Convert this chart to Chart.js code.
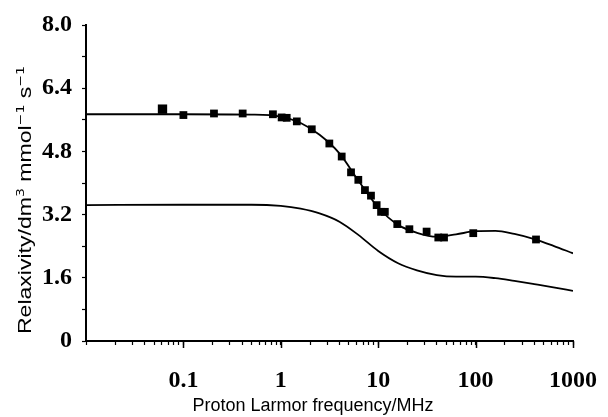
<!DOCTYPE html>
<html><head><meta charset="utf-8">
<script src="https://cdn.jsdelivr.net/npm/chart.js@4/dist/chart.umd.min.js"></script>
<style>html,body{margin:0;padding:0;background:#fff}#wrap{width:608px;height:417px}</style>
</head><body><div id="wrap"><canvas id="c" width="608" height="417"></canvas></div>
<script>
// Measured relaxivity points (squares)
const measuredFreq  = [0.061, 0.1, 0.206, 0.406, 0.83, 1.02, 1.15, 1.46, 2.08, 3.15, 4.22, 5.26, 6.25, 7.31, 8.43, 9.64, 10.7, 11.7, 15.7, 20.9, 31.4, 41.4, 47.4, 94.6, 417];
const measuredRelax = [5.87, 5.72, 5.76, 5.76, 5.74, 5.66, 5.65, 5.56, 5.36, 5.00, 4.67, 4.27, 4.08, 3.82, 3.68, 3.44, 3.27, 3.27, 2.96, 2.83, 2.77, 2.62, 2.62, 2.73, 2.57];
// Fitted curve through the points
const fitFreq  = [0.01, 0.1, 0.5, 1, 1.6, 2.5, 4, 6.3, 10, 16, 25, 40, 63, 100, 160, 250, 400, 630, 1000];
const fitRelax = [5.74, 5.74, 5.73, 5.68, 5.52, 5.22, 4.75, 4.05, 3.38, 2.94, 2.74, 2.64, 2.70, 2.78, 2.79, 2.71, 2.58, 2.41, 2.22];
// Lower calculated curve
const lowerFreq  = [0.01, 0.1, 0.5, 1, 1.6, 2.5, 4, 6.3, 10, 16, 25, 40, 63, 100, 160, 250, 400, 630, 1000];
const lowerRelax = [3.44, 3.45, 3.45, 3.42, 3.35, 3.23, 3.02, 2.68, 2.28, 1.97, 1.79, 1.67, 1.63, 1.63, 1.59, 1.52, 1.44, 1.36, 1.27];
// Axis ticks
const xMajorValues = [0.1, 1, 10, 100, 1000];
const xMajorLabels = ['0.1', '1', '10', '100', '1000'];
const yTickValues = [0, 0.8, 1.6, 2.4, 3.2, 4.0, 4.8, 5.6, 6.4, 7.2, 8.0];
const yTickLabels = ['0', '', '1.6', '', '3.2', '', '4.8', '', '6.4', '', '8.0'];
const xTitle = 'Proton Larmor frequency/MHz';
const yTitleParts = [['Relaxivity/dm', false], ['3', true], [' mmol', false], ['\u22121', true], [' s', false], ['\u22121', true]];

const xTickValues = [];
[0.01, 0.1, 1, 10, 100].forEach(d => { for (let k = 1; k <= 9; k++) xTickValues.push(d * k); });
xTickValues.push(1000);

function xLabel(v) {
  for (let i = 0; i < xMajorValues.length; i++) {
    if (Math.abs(v - xMajorValues[i]) / xMajorValues[i] < 1e-6) return xMajorLabels[i];
  }
  return '';
}

const titlesPlugin = {
  id: 'titles',
  afterDraw(chart) {
    const ctx = chart.ctx;
    const xs = chart.scales.x;
    ctx.save();
    ctx.strokeStyle = '#000';
    ctx.lineWidth = 1.5;
    xMajorValues.forEach(v => {
      const px = Math.round(xs.getPixelForValue(v)) + 0.5;
      ctx.beginPath();
      ctx.moveTo(px, xs.top);
      ctx.lineTo(px, xs.top + 7);
      ctx.stroke();
    });
    ctx.fillStyle = '#000';
    ctx.font = '18px "Liberation Sans", Arial, sans-serif';
    ctx.textAlign = 'center';
    ctx.textBaseline = 'middle';
    ctx.fillText(xTitle, 313, 406);
    // y title
    ctx.translate(25, 200);
    ctx.rotate(-Math.PI / 2);
    ctx.scale(1.28, 1);
    const mainFont = '18px "Liberation Sans", Arial, sans-serif';
    const supFont = '11px "DejaVu Sans", "Liberation Sans", sans-serif';
    let total = 0;
    const widths = yTitleParts.map(([t, sup]) => { ctx.font = sup ? supFont : mainFont; const w = ctx.measureText(t).width; total += w; return w; });
    let x = -total / 2;
    ctx.textAlign = 'left';
    ctx.textBaseline = 'alphabetic';
    yTitleParts.forEach(([t, sup], i) => {
      ctx.font = sup ? supFont : mainFont;
      ctx.fillText(t, x, sup ? -1 : 6);
      x += widths[i];
    });
    ctx.restore();
  }
};

new Chart(document.getElementById('c'), {
  type: 'scatter',
  data: {
    datasets: [
      {
        data: measuredFreq.map((f, i) => ({x: f, y: measuredRelax[i]})),
        pointStyle: 'rect',
        pointRadius: ctx => ctx.dataIndex === 0 ? 6.6 : 5.5,
        backgroundColor: '#000',
        borderColor: '#000',
        borderWidth: 0,
        order: 0
      },
      {
        data: fitFreq.map((f, i) => ({x: f, y: fitRelax[i]})),
        showLine: true,
        pointRadius: 0,
        borderColor: '#000',
        borderWidth: 1.8,
        cubicInterpolationMode: 'monotone',
        order: 1
      },
      {
        data: lowerFreq.map((f, i) => ({x: f, y: lowerRelax[i]})),
        showLine: true,
        pointRadius: 0,
        borderColor: '#000',
        borderWidth: 1.8,
        cubicInterpolationMode: 'monotone',
        order: 2
      }
    ]
  },
  options: {
    responsive: false,
    animation: false,
    devicePixelRatio: 1,
    layout: {padding: {top: 25, right: 35, left: 0, bottom: 0}},
    plugins: {legend: {display: false}, tooltip: {enabled: false}},
    scales: {
      x: {
        type: 'logarithmic',
        min: 0.01,
        max: 1000,
        afterBuildTicks: s => { s.ticks = xTickValues.map(v => ({value: v})); },
        afterFit: s => { s.height = 76; s.paddingLeft = 0; s.paddingRight = 0; },
        ticks: {
          autoSkip: false, maxRotation: 0, minRotation: 0, padding: 21, color: '#000',
          font: {family: '"Liberation Serif", "Times New Roman", serif', size: 24, weight: 'bold'},
          callback: v => xLabel(v)
        },
        grid: {display: true, drawOnChartArea: false, drawTicks: true, tickLength: 4, tickWidth: 1.2, tickColor: '#000'},
        border: {display: true, color: '#000', width: 2}
      },
      y: {
        min: 0,
        max: 8,
        afterBuildTicks: s => { s.ticks = yTickValues.map(v => ({value: v})); },
        afterFit: s => { s.width = 86; s.paddingTop = 0; s.paddingBottom = 0; },
        ticks: {
          autoSkip: false, padding: 10, color: '#000',
          font: {family: '"Liberation Serif", "Times New Roman", serif', size: 24, weight: 'bold'},
          callback: (v, i) => yTickLabels[i]
        },
        grid: {display: true, drawOnChartArea: false, drawTicks: true, tickLength: 4, tickWidth: 1.2, tickColor: '#000'},
        border: {display: true, color: '#000', width: 2}
      }
    }
  },
  plugins: [titlesPlugin]
});
</script>
</body></html>
